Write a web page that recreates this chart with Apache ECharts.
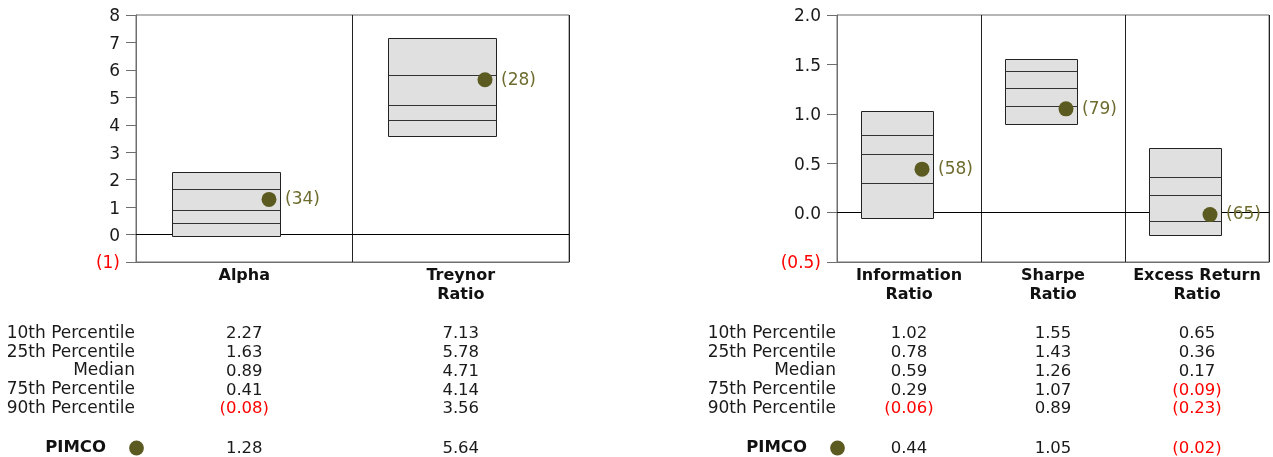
<!DOCTYPE html>
<html>
<head>
<meta charset="utf-8">
<script src="https://cdn.jsdelivr.net/npm/echarts@6/dist/echarts.min.js"></script>
<style>
html,body{margin:0;padding:0;background:#fff;}
#c{width:1273px;height:457px;}
</style>
</head>
<body>
<div id="c"></div>
<script>
// ---------- data ----------
const leftCats = ['Alpha', 'Treynor\nRatio'];
const leftP10 = [2.27, 7.13];
const leftP25 = [1.63, 5.78];
const leftMed = [0.89, 4.71];
const leftP75 = [0.41, 4.14];
const leftP90 = [-0.08, 3.56];
const leftPimco = [1.28, 5.64];
const leftRank = [34, 28];

const rightCats = ['Information\nRatio', 'Sharpe\nRatio', 'Excess Return\nRatio'];
const rightP10 = [1.02, 1.55, 0.65];
const rightP25 = [0.78, 1.43, 0.36];
const rightMed = [0.59, 1.26, 0.17];
const rightP75 = [0.29, 1.07, -0.09];
const rightP90 = [-0.06, 0.89, -0.23];
const rightPimco = [0.44, 1.05, -0.02];
const rightRank = [58, 79, 65];

const rowLabels = ['10th Percentile', '25th Percentile', 'Median', '75th Percentile', '90th Percentile'];
const pimcoLabel = ['PIMCO'];

const leftAxis = { min: -1, max: 8, interval: 1 };
const rightAxis = { min: -0.5, max: 2.0, interval: 0.5 };

// ---------- style ----------
const FONT = 'DejaVu Sans';
const TXT = '#1a1a1a';
const NEG = '#ff0000';
const FRAME = '#6e6e6e';
const DOT = '#5b5a21';
const RANKC = '#6e6c2e';

const fmt2 = v => v < 0 ? '(' + Math.abs(v).toFixed(2) + ')' : v.toFixed(2);
const crisp = v => Math.round(v - 0.5) + 0.5;

function boxData(p10, p25, med, p75, p90, pim, rank) {
  return p10.map((_, i) => [i, p10[i], p25[i], med[i], p75[i], p90[i], pim[i], rank[i]]);
}
function tableData(arrs) {
  const out = [];
  arrs.forEach((arr, r) => arr.forEach((v, i) => out.push([i, r, v])));
  return out;
}

function renderBox(params, api) {
  const i = api.value(0);
  const band = api.size([1, 0])[0];
  const cx = api.coord([i, 0])[0];
  const y = k => crisp(api.coord([i, api.value(k)])[1]);
  // box spans from 1/6 to 2/3 of the category band
  const x0 = crisp(cx - band / 2 + band / 6), x1 = crisp(cx - band / 2 + band * 2 / 3);
  const children = [];
  if (params.dataIndex === 0) {
    const cs = params.coordSys;
    const yz = crisp(api.coord([i, 0])[1]);
    children.push({ type: 'line', shape: { x1: cs.x, y1: yz, x2: cs.x + cs.width, y2: yz },
      style: { stroke: '#000', lineWidth: 1 } });
  }
  children.push({ type: 'rect', shape: { x: x0, y: y(1), width: x1 - x0, height: y(5) - y(1) },
    style: { fill: '#e0e0e0', stroke: '#222', lineWidth: 1 } });
  [2, 3, 4].forEach(k => children.push({ type: 'line',
    shape: { x1: x0, y1: y(k), x2: x1, y2: y(k) }, style: { stroke: '#333', lineWidth: 1 } }));
  const dx = x1 - 11.5;
  const dy = api.coord([i, api.value(6)])[1];
  children.push({ type: 'circle', shape: { cx: dx, cy: dy, r: 7.5 }, style: { fill: DOT } });
  children.push({ type: 'text', x: dx + 16, y: dy + 0.5,
    style: { text: '(' + api.value(7) + ')', textAlign: 'left', textVerticalAlign: 'middle',
      font: '17px "' + FONT + '"', fill: RANKC } });
  return { type: 'group', children };
}

function renderTable(withDot) {
  return function (params, api) {
    const p = api.coord([api.value(0), api.value(1)]);
    const v = api.value(2);
    const children = [{ type: 'text', x: p[0], y: p[1] + 0.5,
      style: { text: fmt2(v), textAlign: 'center', textVerticalAlign: 'middle',
        font: '16.5px "' + FONT + '"', fill: v < 0 ? NEG : TXT } }];
    if (withDot && params.dataIndex === 0) {
      children.push({ type: 'circle', shape: { cx: params.coordSys.x + 0.5, cy: p[1], r: 7.4 }, style: { fill: DOT } });
    }
    return { type: 'group', children };
  };
}

const chart = echarts.init(document.getElementById('c'), null, { renderer: 'canvas' });

const panels = [
  { left: 136, width: 433, cats: leftCats, ax: leftAxis, dec: 0,
    box: boxData(leftP10, leftP25, leftMed, leftP75, leftP90, leftPimco, leftRank),
    tab: tableData([leftP10, leftP25, leftMed, leftP75, leftP90]), pim: tableData([leftPimco]) },
  { left: 837, width: 432, cats: rightCats, ax: rightAxis, dec: 1,
    box: boxData(rightP10, rightP25, rightMed, rightP75, rightP90, rightPimco, rightRank),
    tab: tableData([rightP10, rightP25, rightMed, rightP75, rightP90]), pim: tableData([rightPimco]) }
];

const grid = [], xAxis = [], yAxis = [], series = [];
panels.forEach((P, pi) => {
  // chart grid
  const g = grid.length;
  grid.push({ left: P.left, width: P.width, top: 15, height: 247, show: true,
    borderColor: FRAME, borderWidth: 1, backgroundColor: 'transparent', containLabel: false });
  xAxis.push({ type: 'category', gridIndex: g, data: P.cats, boundaryGap: true,
    axisLine: { show: true, onZero: false, lineStyle: { color: FRAME, width: 1 } },
    axisTick: { show: false },
    splitLine: { show: true, interval: 0, lineStyle: { color: '#222', width: 1 } },
    axisLabel: { interval: 0, margin: 5, fontFamily: FONT, fontSize: 16, fontWeight: 'bold',
      color: '#111', lineHeight: 18.5 } });
  yAxis.push({ type: 'value', gridIndex: g, min: P.ax.min, max: P.ax.max, interval: P.ax.interval,
    axisLine: { show: true, lineStyle: { color: FRAME, width: 1 } },
    axisTick: { show: true, length: 10, lineStyle: { color: FRAME, width: 1 } },
    splitLine: { show: false },
    axisLabel: { margin: 16, fontFamily: FONT, fontSize: 17, color: TXT, padding: [4, 0, 0, 0],
      formatter: v => v < 0 ? '{n|(' + Math.abs(v).toFixed(P.dec) + ')}' : v.toFixed(P.dec),
      rich: { n: { color: NEG, fontFamily: FONT, fontSize: 17 } } } });
  series.push({ type: 'custom', xAxisIndex: xAxis.length - 1, yAxisIndex: yAxis.length - 1,
    data: P.box, encode: { x: 0, y: [1, 2, 3, 4, 5, 6] }, renderItem: renderBox, clip: false, z: 3 });

  // table grid
  const t = grid.length;
  grid.push({ left: P.left, width: P.width, top: 324, height: 94, show: false });
  xAxis.push({ type: 'category', gridIndex: t, data: P.cats, show: false });
  yAxis.push({ type: 'category', gridIndex: t, data: rowLabels, inverse: true,
    axisLine: { show: false }, axisTick: { show: false }, splitLine: { show: false },
    axisLabel: { interval: 0, margin: 1, fontFamily: FONT, fontSize: 17, color: TXT, padding: [2, 0, 0, 0] } });
  series.push({ type: 'custom', xAxisIndex: xAxis.length - 1, yAxisIndex: yAxis.length - 1,
    data: P.tab, encode: { x: 0, y: 1 }, renderItem: renderTable(false), clip: false });

  // PIMCO row grid
  const q = grid.length;
  grid.push({ left: P.left, width: P.width, top: 439, height: 19, show: false });
  xAxis.push({ type: 'category', gridIndex: q, data: P.cats, show: false });
  yAxis.push({ type: 'category', gridIndex: q, data: pimcoLabel, inverse: true,
    axisLine: { show: false }, axisTick: { show: false }, splitLine: { show: false },
    axisLabel: { interval: 0, margin: 30, fontFamily: FONT, fontSize: 16.5, fontWeight: 'bold', color: '#111', padding: [2, 0, 0, 0] } });
  series.push({ type: 'custom', xAxisIndex: xAxis.length - 1, yAxisIndex: yAxis.length - 1,
    data: P.pim, encode: { x: 0, y: 1 }, renderItem: renderTable(true), clip: false });
});

chart.setOption({ animation: false, backgroundColor: '#fff', grid, xAxis, yAxis, series });
</script>
</body>
</html>
